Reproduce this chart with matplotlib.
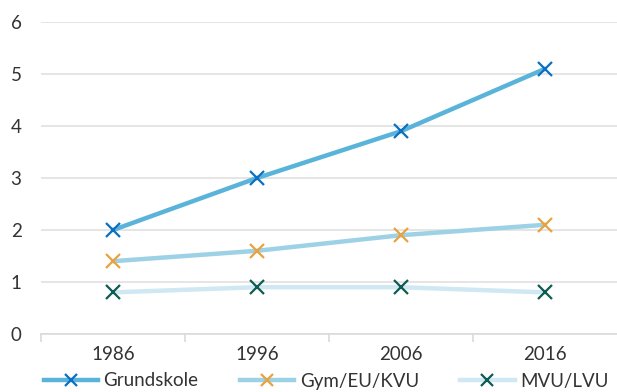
import matplotlib
matplotlib.use("Agg")
import matplotlib.pyplot as plt
from matplotlib.lines import Line2D

years = ["1986", "1996", "2006", "2016"]
grundskole = [2.0, 3.0, 3.9, 5.1]
gym = [1.4, 1.6, 1.9, 2.1]
mvu = [0.8, 0.9, 0.9, 0.8]
series_names = ["Grundskole", "Gym/EU/KVU", "MVU/LVU"]
line_colors = ["#5AB4DA", "#9DD1E5", "#CFE8F3"]
marker_colors = ["#0B6FC2", "#E8A23E", "#0D5B52"]

plt.rcParams['font.family'] = ['Lato', 'DejaVu Sans']
fig = plt.figure(figsize=(6.17, 3.92), dpi=100)
ax = fig.add_axes([41/617, 58/392, 576/617, 312/392])

x = list(range(len(years)))
handles = []
for vals, lc, mc, name in zip([grundskole, gym, mvu], line_colors, marker_colors, series_names):
    ax.plot(x, vals, color=lc, lw=3.2, solid_capstyle='round', zorder=3)
    ax.plot(x, vals, ls='none', marker='x', ms=10, mew=1.6, color=mc, zorder=4)
    handles.append(Line2D([], [], color=lc, lw=3.2, marker='x', ms=9, mew=1.6,
                          markeredgecolor=mc, label=name))

ax.set_xlim(-0.5, 3.5)
ax.set_ylim(0, 6)
ax.set_yticks(range(0, 7))
ax.set_xticks(x)
ax.set_xticklabels(years)
ax.set_xticks([-0.5, 0.5, 1.5, 2.5], minor=True)
ax.grid(axis='y', color='#E0E0E0', lw=1.2, zorder=0)
for s in ['top', 'right', 'left']:
    ax.spines[s].set_visible(False)
ax.spines['bottom'].set_color('#DADADA')
ax.spines['bottom'].set_linewidth(1.2)
ax.tick_params(axis='y', length=0, labelsize=13.5, pad=14, labelcolor='#333333')
ax.tick_params(axis='x', which='major', length=0, labelsize=13.5, pad=9, labelcolor='#333333')
ax.tick_params(axis='x', which='minor', length=6, width=1.2, color='#DADADA')

fig.legend(handles=handles, loc='center', bbox_to_anchor=(326/617, 1 - 381/392), ncol=3,
           frameon=False, fontsize=13.5, handlelength=2.9, columnspacing=2.2,
           handletextpad=0.3, labelcolor='#333333')

fig.savefig("out.png", dpi=100)
